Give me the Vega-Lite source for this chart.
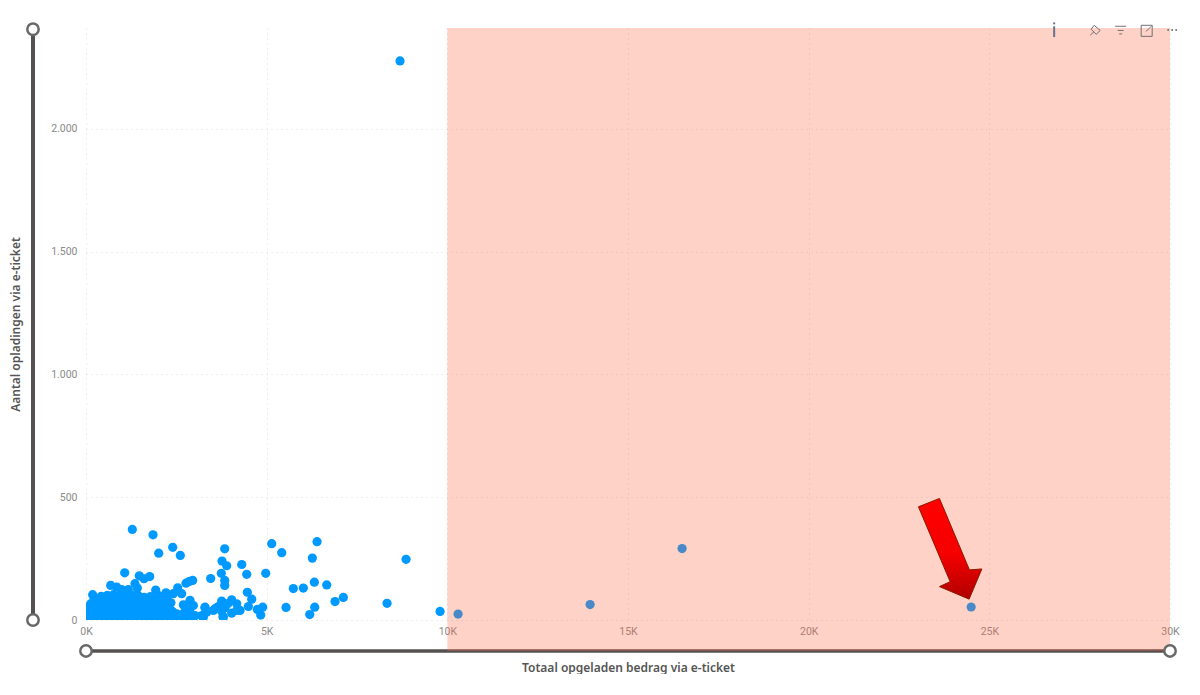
{"$schema":"https://vega.github.io/schema/vega-lite/v6.json","width":1084,"height":592,"autosize":{"type":"none"},"padding":{"left":86,"top":28,"right":30,"bottom":75},"background":"white","view":{"stroke":null},
"datasets":{
"points":[
{"x":60,"y":10},{"x":230,"y":8},{"x":400,"y":12},{"x":570,"y":9},{"x":740,"y":11},{"x":910,"y":8},{"x":1080,"y":12},{"x":1250,"y":9},{"x":1420,"y":11},{"x":1590,"y":8},{"x":1760,"y":12},{"x":1930,"y":9},{"x":2100,"y":11},{"x":2270,"y":8},{"x":2440,"y":12},{"x":2610,"y":9},{"x":2780,"y":10},
{"x":40,"y":32},{"x":210,"y":30},{"x":380,"y":33},{"x":550,"y":31},{"x":720,"y":30},{"x":890,"y":33},{"x":1060,"y":31},{"x":1230,"y":30},{"x":1400,"y":33},{"x":1570,"y":31},{"x":1740,"y":30},{"x":1910,"y":33},{"x":2080,"y":31},{"x":2250,"y":30},{"x":2400,"y":34},
{"x":50,"y":52},{"x":220,"y":55},{"x":390,"y":54},{"x":560,"y":56},{"x":730,"y":53},{"x":900,"y":55},{"x":1070,"y":54},{"x":1240,"y":56},{"x":1410,"y":53},{"x":1580,"y":55},{"x":1750,"y":54},{"x":1920,"y":56},{"x":2090,"y":53},{"x":2260,"y":55},{"x":2350,"y":70},
{"x":130,"y":66},{"x":300,"y":68},{"x":470,"y":44},{"x":640,"y":67},{"x":810,"y":43},{"x":980,"y":68},{"x":1150,"y":44},{"x":1320,"y":66},{"x":1490,"y":43},{"x":1660,"y":67},{"x":1830,"y":44},{"x":2000,"y":66},{"x":2170,"y":43},{"x":2320,"y":45},
{"x":130,"y":42},{"x":300,"y":20},{"x":640,"y":20},{"x":980,"y":22},{"x":1320,"y":20},{"x":1660,"y":21},{"x":2000,"y":20},{"x":2340,"y":20},
{"x":210,"y":78},{"x":380,"y":80},{"x":550,"y":77},{"x":720,"y":81},{"x":890,"y":79},{"x":1060,"y":80},{"x":1230,"y":77},{"x":1400,"y":81},{"x":1570,"y":79},{"x":1740,"y":78},{"x":1910,"y":80},{"x":2080,"y":77},{"x":2250,"y":82},
{"x":420,"y":96},{"x":590,"y":100},{"x":760,"y":103},{"x":930,"y":100},{"x":1100,"y":105},{"x":1270,"y":102},{"x":1440,"y":100},{"x":1610,"y":92},{"x":1780,"y":95},{"x":2000,"y":100},{"x":2130,"y":94},
{"x":185,"y":103},{"x":684,"y":141},{"x":850,"y":134},{"x":988,"y":124},{"x":1171,"y":124},{"x":1356,"y":148},{"x":1420,"y":130},{"x":1929,"y":122},{"x":2214,"y":111},{"x":2417,"y":107},{"x":2538,"y":131},{"x":2648,"y":107},
{"x":1071,"y":192},{"x":1475,"y":180},{"x":1605,"y":168},{"x":1763,"y":177},{"x":1282,"y":369},{"x":1855,"y":347},{"x":2012,"y":272},{"x":2400,"y":296},{"x":2610,"y":263},
{"x":2768,"y":150},{"x":2860,"y":157},{"x":2953,"y":161},{"x":2879,"y":80},{"x":2694,"y":62},{"x":2971,"y":59},{"x":3294,"y":52},{"x":2879,"y":32},{"x":3017,"y":18},{"x":3203,"y":18},{"x":2511,"y":25},{"x":2694,"y":25},{"x":2741,"y":52},{"x":2971,"y":11},{"x":3247,"y":11},{"x":3800,"y":11},{"x":3524,"y":39},{"x":4263,"y":39},
{"x":4032,"y":82},{"x":3755,"y":77},{"x":4171,"y":66},{"x":3662,"y":55},{"x":3571,"y":46},{"x":3294,"y":50},{"x":4171,"y":39},{"x":4032,"y":28},{"x":3848,"y":50},{"x":3755,"y":36},{"x":3341,"y":32},{"x":3230,"y":14},{"x":3930,"y":67},{"x":3792,"y":14},
{"x":3839,"y":290},{"x":3764,"y":240},{"x":3894,"y":221},{"x":4310,"y":226},{"x":3745,"y":190},{"x":4448,"y":186},{"x":4974,"y":190},{"x":3451,"y":169},{"x":3839,"y":161},{"x":3839,"y":141},{"x":4465,"y":113},{"x":4586,"y":85},{"x":4493,"y":55},{"x":4890,"y":52},{"x":4742,"y":43},{"x":4835,"y":20},
{"x":5140,"y":311},{"x":5417,"y":274},{"x":6394,"y":319},{"x":6264,"y":252},{"x":6320,"y":154},{"x":5738,"y":128},{"x":6015,"y":130},{"x":6663,"y":143},{"x":6892,"y":75},{"x":7122,"y":92},{"x":5536,"y":51},{"x":6330,"y":52},{"x":6192,"y":22},
{"x":8332,"y":68},{"x":8858,"y":247},{"x":8691,"y":2277},{"x":9799,"y":35},{"x":10297,"y":24},{"x":13951,"y":63},{"x":16497,"y":291},{"x":24497,"y":53}
],
"sliders":[{"x":-1467,"y":2406,"part":"v","o":1},{"x":-1467,"y":0,"part":"v","o":2}],
"slidersH":[{"x":0,"y":-126,"part":"h","o":1},{"x":30000,"y":-126,"part":"h","o":2}],
"handles":[{"x":-1467,"y":2406},{"x":-1467,"y":0},{"x":0,"y":-126},{"x":30000,"y":-126}],
"zone":[{"x":10000,"x2":30000,"y":2411,"y2":-126}],
"mask":[{"x":-3000,"x2":33000,"y":-220,"y2":-310}],
"arrow":[{"x":23038,"y":461,"o":1},{"x":23620,"y":495,"o":2},{"x":24450,"y":204,"o":3},{"x":24793,"y":208,"o":4},{"x":24441,"y":85,"o":5},{"x":23620,"y":136,"o":6},{"x":23916,"y":156,"o":7},{"x":23038,"y":461,"o":8}],
"icons":[
{"x":27791,"y":2381,"part":"pinA","o":1},{"x":27901,"y":2397,"part":"pinA","o":2},
{"x":27901,"y":2422,"part":"pinB","o":1},{"x":28068,"y":2401,"part":"pinB","o":2},{"x":27957,"y":2385,"part":"pinB","o":3},{"x":27818,"y":2406,"part":"pinB","o":4},{"x":27901,"y":2422,"part":"pinB","o":5},
{"x":28483,"y":2418,"part":"f1","o":1},{"x":28787,"y":2418,"part":"f1","o":2},
{"x":28552,"y":2401,"part":"f2","o":1},{"x":28718,"y":2401,"part":"f2","o":2},
{"x":28593,"y":2387,"part":"f3","o":1},{"x":28676,"y":2387,"part":"f3","o":2},
{"x":29202,"y":2422,"part":"e","o":1},{"x":29507,"y":2422,"part":"e","o":2},{"x":29507,"y":2377,"part":"e","o":3},{"x":29202,"y":2377,"part":"e","o":4},{"x":29202,"y":2422,"part":"e","o":5},
{"x":29340,"y":2397,"part":"e2","o":1},{"x":29480,"y":2418,"part":"e2","o":2}
],
"info":[{"x":26794,"y":2434,"part":"i0","o":1},{"x":26794,"y":2426,"part":"i0","o":2},{"x":26794,"y":2418,"part":"i1","o":1},{"x":26794,"y":2374,"part":"i1","o":2}],
"dots":[{"x":29950,"y":2403},{"x":30061,"y":2403},{"x":30172,"y":2403}]
},
"encoding":{
"x":{"field":"x","type":"quantitative","scale":{"domain":[0,30000],"nice":false,"zero":false},
"axis":{"values":[0,5000,10000,15000,20000,25000,30000],"labelExpr":"(datum.value/1000)+'K'","title":"Totaal opgeladen bedrag via e-ticket","titleFont":"Noto Sans","titleFontSize":12,"titleFontWeight":600,"titleColor":"#555555","titlePadding":26,"labelFont":"Roboto","labelFontSize":10.5,"labelColor":"#8a8a8a","labelPadding":6,"domain":false,"ticks":false,"grid":true,"gridColor":"#dddddd","gridDash":[1,4],"labelOverlap":false,"labelFlush":false}},
"y":{"field":"y","type":"quantitative","scale":{"domain":[0,2411],"nice":false,"zero":false},
"axis":{"values":[0,500,1000,1500,2000],"labelExpr":"replace(format(datum.value,','),',','.')","title":"Aantal opladingen via e-ticket","titleFont":"Noto Sans","titleFontSize":12,"titleFontWeight":600,"titleColor":"#555555","titleX":-64,"labelFont":"Roboto","labelFontSize":10.5,"labelColor":"#8a8a8a","labelPadding":9,"domain":false,"ticks":false,"grid":true,"gridColor":"#dddddd","gridDash":[1,4],"labelOverlap":false}}
},
"layer":[
{"data":{"name":"sliders"},"mark":{"type":"line","color":"#555050","strokeWidth":4,"clip":false},"encoding":{"order":{"field":"o"}}},
{"data":{"name":"slidersH"},"mark":{"type":"line","color":"#555050","strokeWidth":3.5,"clip":false},"encoding":{"order":{"field":"o"}}},
{"data":{"name":"points"},"mark":{"type":"circle","size":85,"color":"#0099FF","opacity":1,"clip":true}},
{"data":{"name":"zone"},"mark":{"type":"rect","color":"#FF6441","opacity":0.29,"clip":false},"encoding":{"x2":{"field":"x2"},"y2":{"field":"y2"}}},
{"data":{"name":"mask"},"mark":{"type":"rect","color":"white","clip":false},"encoding":{"x2":{"field":"x2"},"y2":{"field":"y2"}}},
{"data":{"name":"arrow"},"mark":{"type":"line","clip":false,"stroke":"#8a1a00","strokeWidth":1,"fill":{"gradient":"linear","x1":0,"y1":0,"x2":0,"y2":1,"stops":[{"offset":0,"color":"#ff0000"},{"offset":0.55,"color":"#f50000"},{"offset":1,"color":"#b00000"}]}},"encoding":{"order":{"field":"o"}}},
{"data":{"name":"icons"},"mark":{"type":"line","color":"#707070","strokeWidth":1,"clip":false},"encoding":{"detail":{"field":"part"},"order":{"field":"o"}}},
{"data":{"name":"info"},"mark":{"type":"line","color":"#66758a","strokeWidth":2,"clip":false},"encoding":{"detail":{"field":"part"},"order":{"field":"o"}}},
{"data":{"name":"dots"},"mark":{"type":"circle","size":4,"color":"#707070","opacity":1,"clip":false}},
{"data":{"name":"handles"},"mark":{"type":"point","filled":true,"size":130,"fill":"white","stroke":"#686868","strokeWidth":2.5,"opacity":1,"clip":false}}
]}
